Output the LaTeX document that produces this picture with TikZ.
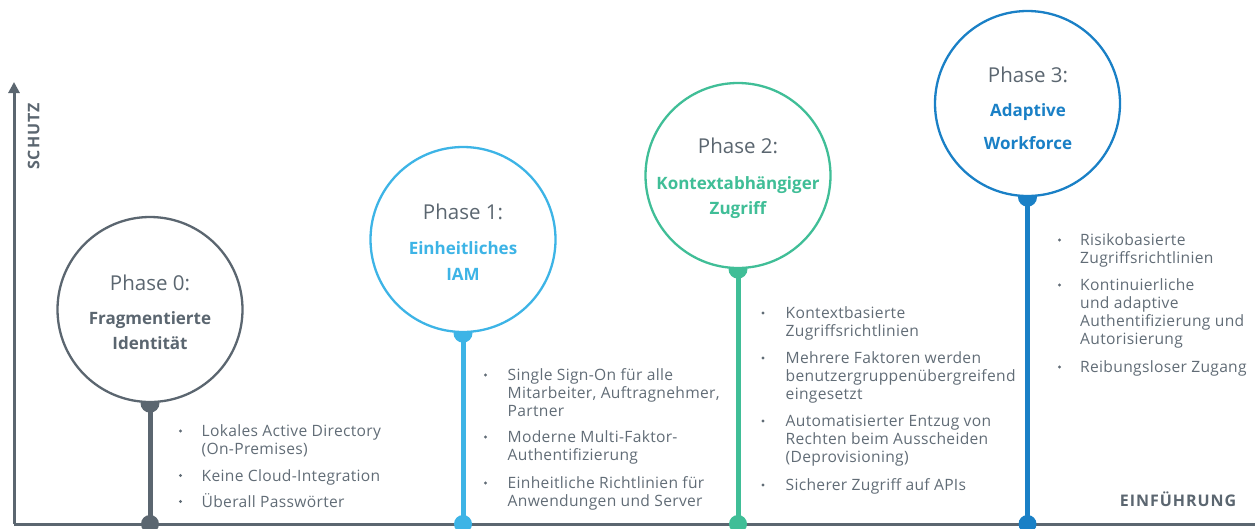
\documentclass[tikz,border=0pt]{standalone}
\usepackage{fontspec}
\setmainfont{Open Sans}
\usetikzlibrary{arrows.meta,backgrounds}
\definecolor{slate}{HTML}{5B6670}
\definecolor{bodygray}{HTML}{616C76}
\definecolor{phsky}{HTML}{3DB4E6}
\definecolor{phgreen}{HTML}{40BE97}
\definecolor{phblue}{HTML}{1A80C6}
\begin{document}
\begin{tikzpicture}[x=1pt,y=-1pt,
  phase/.style={circle,draw=#1,line width=2.3pt,fill=white,minimum size=185pt,inner sep=0pt},
  stem/.style={draw=#1,line width=5pt},
  knob/.style={circle,fill=#1,minimum size=18pt,inner sep=0pt},
  ptitle/.style={anchor=base,inner sep=0pt,text=slate,font=\fontsize{20.5}{23}\selectfont},
  pname/.style={anchor=base,inner sep=0pt,text=#1,font=\fontsize{17}{20}\selectfont\bfseries},
  item/.style={anchor=base west,inner sep=0pt,text=bodygray,font=\fontsize{15.6}{18}\selectfont\addfontfeatures{LetterSpace=2}},
  bulletdot/.style={circle,fill=bodygray,minimum size=3.2pt,inner sep=0pt},
  axislabel/.style={anchor=base,inner sep=0pt,text=slate,font=\fontsize{16}{18}\selectfont\bfseries\addfontfeatures{LetterSpace=6}},
  axisline/.style={draw=slate,line width=3pt}
]
\useasboundingbox (0,0) rectangle (1255,528);

% axes corner points
\coordinate (origin) at (14,524);
\coordinate (ytop) at (14,82);
\coordinate (xend) at (1255,524);

% phase circles
\node[phase=slate]   (c0) at (150,309.5) {};
\node[phase=phsky]   (c1) at (463,239.5) {};
\node[phase=phgreen] (c2) at (738,175.5) {};
\node[phase=phblue]  (c3) at (1027.5,103.5) {};

% markers on the time axis
\node[knob=slate]   (d0) at (150,524) {};
\node[knob=phsky]   (d1) at (463,524) {};
\node[knob=phgreen] (d2) at (738,524) {};
\node[knob=phblue]  (d3) at (1027.5,524) {};

\begin{pgfonlayer}{background}
  \draw[axisline,-{Triangle[length=11pt,width=11pt]}] (origin) -- (ytop);
  \draw[axisline] (origin) -- (xend);
  \draw[stem=slate]   (c0.south) -- (d0.center);
  \draw[stem=phsky]   (c1.south) -- (d1.center);
  \draw[stem=phgreen] (c2.south) -- (d2.center);
  \draw[stem=phblue]  (c3.south) -- (d3.center);
  \fill[slate]   (c0.south) circle[radius=9.5pt];
  \fill[phsky]   (c1.south) circle[radius=9.5pt];
  \fill[phgreen] (c2.south) circle[radius=9.5pt];
  \fill[phblue]  (c3.south) circle[radius=9.5pt];
\end{pgfonlayer}

% axis labels
\node[axislabel,rotate=90] (ylab) at (39.3,136.5) {SCHUTZ};
\node[axislabel] (xlab) at (1178,506.5) {EINFÜHRUNG};

% circle texts
\node[ptitle] (t0) at (150,290) {Phase 0:};
\node[pname=slate] (n0a) at (150,324.5) {Fragmentierte};
\node[pname=slate] (n0b) at (150,349.5) {Identität};

\node[ptitle] (t1) at (463,219) {Phase 1:};
\node[pname=phsky] (n1a) at (463,254) {Einheitliches};
\node[pname=phsky] (n1b) at (463,280) {IAM};

\node[ptitle] (t2) at (738,153) {Phase 2:};
\node[pname=phgreen] (n2a) at (738,189) {Kontextabhängiger};
\node[pname=phgreen] (n2b) at (738,214) {Zugriff};

\node[ptitle] (t3) at (1028,82) {Phase 3:};
\node[pname=phblue] (n3a) at (1028,116) {Adaptive};
\node[pname=phblue] (n3b) at (1028,149) {Workforce};

% phase 0 list
\node[bulletdot] (b0a) at (180.5,431) {};
\node[bulletdot] (b0b) at (180.5,475.5) {};
\node[bulletdot] (b0c) at (180.5,501.5) {};
\node[item] (l0a) at (201.5,436.5) {Lokales Active Directory};
\node[item] (l0b) at (201.5,454.5) {(On-Premises)};
\node[item] (l0c) at (201.5,481) {Keine Cloud-Integration};
\node[item] (l0d) at (201.5,507) {Überall Passwörter};

% phase 1 list
\node[bulletdot] (b1a) at (485.5,375) {};
\node[bulletdot] (b1b) at (485.5,437) {};
\node[bulletdot] (b1c) at (485.5,483) {};
\node[item] (l1a) at (507.5,380.5) {Single Sign-On für alle};
\node[item] (l1b) at (507.5,398.5) {Mitarbeiter, Auftragnehmer,};
\node[item] (l1c) at (507.5,416.5) {Partner};
\node[item] (l1d) at (507.5,442.5) {Moderne Multi-Faktor-};
\node[item] (l1e) at (507.5,460.5) {Authentifizierung};
\node[item] (l1f) at (507.5,488.5) {Einheitliche Richtlinien für};
\node[item] (l1g) at (507.5,506.5) {Anwendungen und Server};

% phase 2 list
\node[bulletdot] (b2a) at (763,313) {};
\node[bulletdot] (b2b) at (763,358) {};
\node[bulletdot] (b2c) at (763,421) {};
\node[bulletdot] (b2d) at (763,485) {};
\node[item] (l2a) at (785.5,318.5) {Kontextbasierte};
\node[item] (l2b) at (785.5,336.5) {Zugriffsrichtlinien};
\node[item] (l2c) at (785.5,363.5) {Mehrere Faktoren werden};
\node[item] (l2d) at (785.5,381.5) {benutzergruppenübergreifend};
\node[item] (l2e) at (785.5,399.5) {eingesetzt};
\node[item] (l2f) at (785.5,426.5) {Automatisierter Entzug von};
\node[item] (l2g) at (785.5,444.5) {Rechten beim Ausscheiden};
\node[item] (l2h) at (785.5,462.5) {(Deprovisioning)};
\node[item] (l2i) at (785.5,490.5) {Sicherer Zugriff auf APIs};

% phase 3 list
\node[bulletdot] (b3a) at (1059.5,240) {};
\node[bulletdot] (b3b) at (1059.5,285) {};
\node[bulletdot] (b3c) at (1059.5,367) {};
\node[item] (l3a) at (1080,245.5) {Risikobasierte};
\node[item] (l3b) at (1080,263.5) {Zugriffsrichtlinien};
\node[item] (l3c) at (1080,290.5) {Kontinuierliche};
\node[item] (l3d) at (1080,308.5) {und adaptive};
\node[item] (l3e) at (1080,326.5) {Authentifizierung und};
\node[item] (l3f) at (1080,344.5) {Autorisierung};
\node[item] (l3g) at (1080,372.5) {Reibungsloser Zugang};
\end{tikzpicture}
\end{document}
